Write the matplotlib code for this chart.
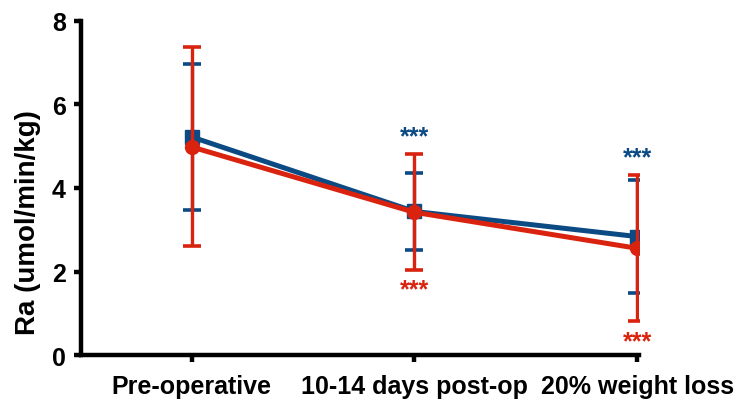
import numpy as np
import matplotlib.pyplot as plt

plt.rcParams['font.family'] = ['Liberation Sans', 'DejaVu Sans']
plt.rcParams['font.weight'] = 'bold'

categories = ['Pre-operative', '10-14 days post-op', '20% weight loss']
blue_mean = [5.22, 3.44, 2.84]
blue_hi = [6.95, 4.36, 4.19]
blue_lo = [3.48, 2.51, 1.49]
red_mean = [4.98, 3.42, 2.56]
red_hi = [7.37, 4.82, 4.31]
red_lo = [2.62, 2.05, 0.83]
blue_stars = [None, '***', '***']
red_stars = [None, '***', '***']

blue = '#0b4a83'
red = '#d9230f'

fig = plt.figure(figsize=(7.36, 4.06), dpi=100)
ax = fig.add_axes([0.110, 0.122, 0.758, 0.825])

x = np.arange(len(categories))

def draw(mean, lo, hi, color, marker, ms, z):
    mean, lo, hi = np.array(mean), np.array(lo), np.array(hi)
    yerr = [mean - lo, hi - mean]
    ax.errorbar(x, mean, yerr=yerr, color=color, lw=3.6, marker=marker, ms=ms,
                elinewidth=2.4, capsize=6.5, capthick=2.6, zorder=z)

draw(blue_mean, blue_lo, blue_hi, blue, 's', 10, 3)
draw(red_mean, red_lo, red_hi, red, 'o', 10, 4)

for i in x:
    top = max(blue_hi[i], red_hi[i])
    bot = min(blue_lo[i], red_lo[i])
    if blue_stars[i]:
        ax.text(i, top + 0.42, blue_stars[i], color=blue, ha='center', va='center', fontsize=18)
    if red_stars[i]:
        ax.text(i, bot - 0.48, red_stars[i], color=red, ha='center', va='center', fontsize=18)

ax.set_xlim(-0.497, 2.008)
ax.set_ylim(0, 8)
ax.set_yticks([0, 2, 4, 6, 8])
ax.set_xticks(x)
ax.set_xticklabels(categories, fontsize=18, fontweight='bold')
ax.tick_params(axis='y', labelsize=18, width=3.2, length=5, pad=6)
ax.tick_params(axis='x', width=3.2, length=5, pad=8)
ax.set_ylabel('Ra (umol/min/kg)', fontsize=20, fontweight='bold')
ax.yaxis.set_label_coords(-0.072, 0.40)
for s in ['top', 'right']:
    ax.spines[s].set_visible(False)
for s in ['left', 'bottom']:
    ax.spines[s].set_linewidth(3.2)
    ax.spines[s].set_capstyle('projecting')

fig.savefig('out.png', dpi=100)
